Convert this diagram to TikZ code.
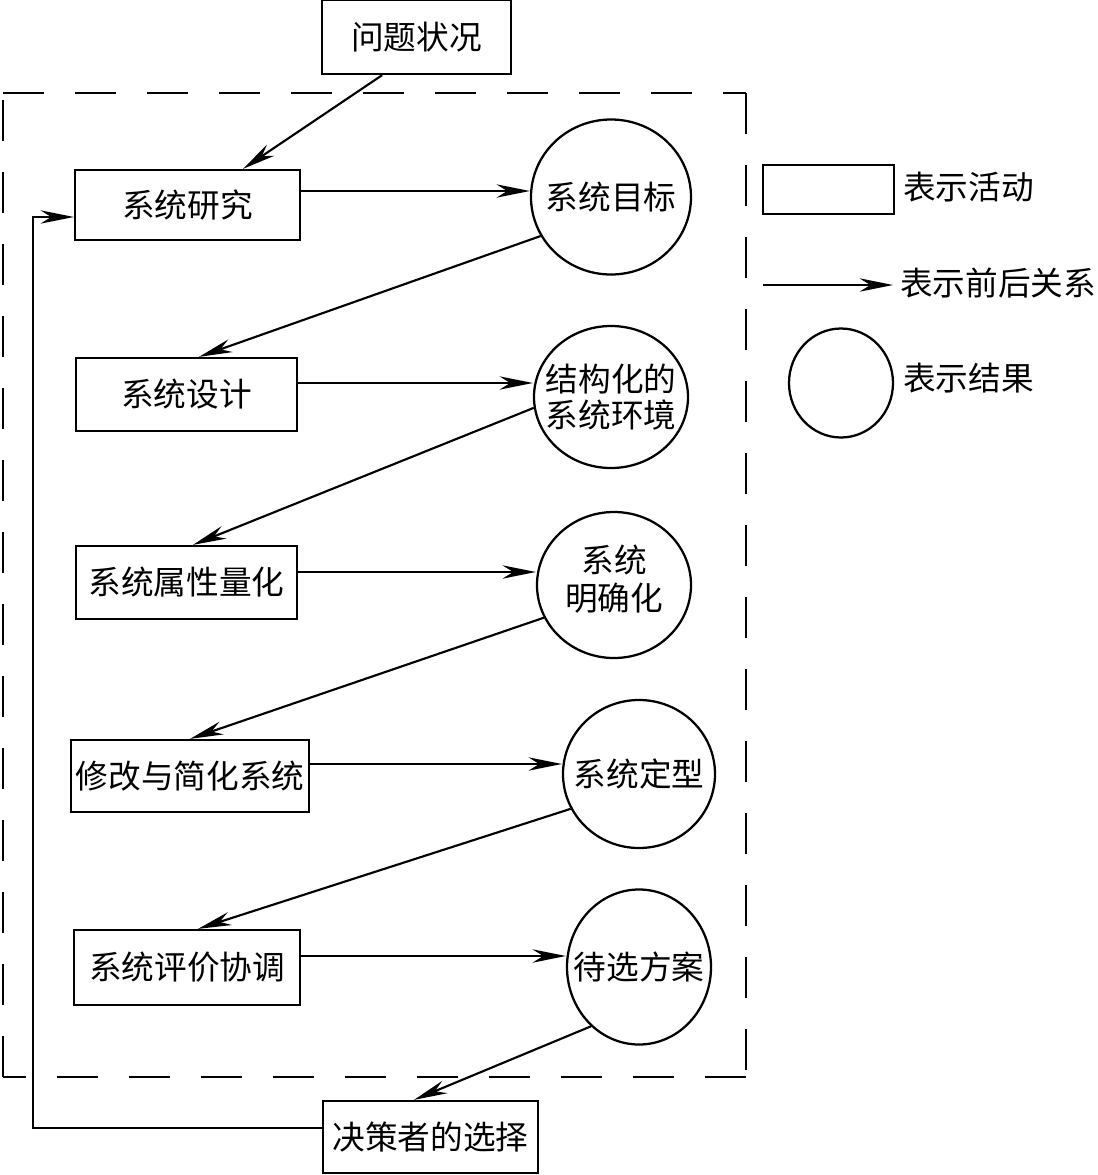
\documentclass[tikz,border=0pt]{standalone}
\usepackage{fontspec}
\setmainfont{Noto Sans CJK SC}
\usetikzlibrary{arrows.meta,shapes.geometric,calc}
\begin{document}
\begin{tikzpicture}[x=0.75pt,y=-0.75pt,
  every node/.style={font=\fontsize{24.5}{26.5}\selectfont},
  box/.style={draw, line width=1.7pt, rectangle, inner sep=0pt},
  res/.style={draw, line width=1.7pt, ellipse, inner sep=0pt},
  rtxt/.style={align=center, inner sep=0pt},
  arr/.style={line width=1.6pt, -{Stealth[length=25pt,width=10pt,inset=8pt]}},
  frame/.style={line width=2pt, dash pattern=on 31pt off 23pt},
  lbl/.style={anchor=west, inner sep=0pt}]
\useasboundingbox (0,0) rectangle (1098,1175);

% dashed frame, each side starting at a corner
\coordinate (ftl) at (3,93);
\coordinate (ftr) at (746,93);
\coordinate (fbr) at (746,1077);
\coordinate (fbl) at (3,1077);
\draw[frame] (ftl) -- (ftr);
\draw[frame] (ftr) -- (fbr);
\draw[frame] (fbr) -- (fbl);
\draw[frame] (fbl) -- (ftl);

% activity boxes
\node[box, minimum width=141.75pt, minimum height=55.5pt] (p) at (416.5,37) {问题状况};
\node[box, minimum width=168.75pt, minimum height=52.5pt] (a1) at (187.5,205) {系统研究};
\node[box, minimum width=165.75pt, minimum height=54.75pt] (a2) at (186.5,394.5) {系统设计};
\node[box, minimum width=165.75pt, minimum height=54.75pt] (a3) at (186.5,582.5) {系统属性量化};
\node[box, minimum width=178.5pt, minimum height=54pt] (a4) at (190,776) {修改与简化系统};
\node[box, minimum width=169.5pt, minimum height=56.25pt] (a5) at (187,967.5) {系统评价协调};
\node[box, minimum width=161.25pt, minimum height=54pt] (d) at (430.5,1137) {决策者的选择};

% result circles
\node[res, minimum width=120pt, minimum height=116.25pt] (r1) at (611,197) {};
\node[rtxt] (r1t) at (r1) {系统目标};
\node[res, minimum width=115.5pt, minimum height=106.5pt] (r2) at (611,397) {};
\node[rtxt] (r2t) at (r2) {结构化的\\系统环境};
\node[res, minimum width=115.5pt, minimum height=109.5pt] (r3) at (614,585) {};
\node[rtxt, font=\fontsize{24.5}{28.5}\selectfont] (r3t) at ($(r3)+(0,-6)$) {系统\\明确化};
\node[res, minimum width=114pt, minimum height=111pt] (r4) at (639,774) {};
\node[rtxt] (r4t) at (r4) {系统定型};
\node[res, minimum width=108pt, minimum height=116.25pt] (r5) at (639,967) {};
\node[rtxt] (r5t) at (r5) {待选方案};

% connectors
\draw[arr] (p.228) -- ($(a1.north)+(55.5,0)$);
\draw[arr] (a1.east |- 0,191) -- (r1.west |- 0,191);
\draw[arr] (r1.209) -- ($(a2.north)+(12.5,0)$);
\draw[arr] (a2.east |- 0,383) -- (r2.west |- 0,383);
\draw[arr] (r2.188) -- ($(a3.north)+(6.5,0)$);
\draw[arr] (a3.east |- 0,572) -- (r3.west |- 0,572);
\draw[arr] (r3.205) -- (a4.north);
\draw[arr] (a4.east |- 0,764) -- (r4.west |- 0,764);
\draw[arr] (r4.207.5) -- ($(a5.north)+(11,0)$);
\draw[arr] (a5.east |- 0,956) -- (r5.west |- 0,956);
\draw[arr] (r5.231) -- ($(d.north)+(-16.5,0)$);

% feedback loop
\coordinate (fb) at (33,600);
\draw[arr] ($(d.west)+(0,-9)$) -| (fb) |- ($(a1.west)+(0,12)$);

% legend
\node[box, minimum width=98.25pt, minimum height=36.75pt] (lg1) at (828.5,189.5) {};
\node[lbl] (t1) at (903,187) {表示活动};
\coordinate (la) at (763,285);
\coordinate (lb) at (893,285);
\draw[arr] (la) -- (lb);
\node[lbl] (t2) at (900,283) {表示前后关系};
\node[res, minimum width=78pt, minimum height=81.75pt] (lg3) at (841,383) {};
\node[lbl] (t3) at (903,378) {表示结果};
\end{tikzpicture}
\end{document}
